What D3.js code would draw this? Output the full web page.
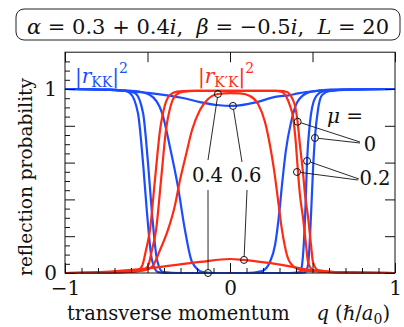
<!DOCTYPE html>
<html>
<head>
<meta charset="utf-8">
<script src="https://cdn.jsdelivr.net/npm/d3@7"></script>
<style>
body { margin: 0; background: #fff; }
svg text { font-family: "DejaVu Serif", serif; fill: #111; white-space: pre; }
</style>
</head>
<body>
<div id="vis"></div>
<script>
// declare constants
const FRAME_WIDTH = 404;
const FRAME_HEIGHT = 327;
const BLUE = "#1c4cff";
const RED = "#ff2a14";
const FONT = 20;
const SUB = 14;

// |r_KK|^2 curves, [q, probability], one per mu
const KK_MU0 = [[-1,1],[-0.727,0.997],[-0.636,0.989],[-0.606,0.978],[-0.558,0.87],[-0.527,0.598],[-0.503,0.326],[-0.473,0.071],[-0.436,0.005],[-0.35,0],[0,0],[0.38,0],[0.455,0.003],[0.473,0.043],[0.491,0.315],[0.503,0.56],[0.515,0.739],[0.533,0.886],[0.558,0.967],[0.606,0.989],[0.727,0.997],[1,1]];
const KK_MU2 = [[-1,1],[-0.727,0.997],[-0.63,0.99],[-0.576,0.978],[-0.527,0.87],[-0.497,0.598],[-0.473,0.326],[-0.442,0.071],[-0.406,0.005],[-0.3,0],[0,0],[0.36,0],[0.424,0.003],[0.436,0.04],[0.455,0.3],[0.467,0.609],[0.485,0.82],[0.515,0.95],[0.558,0.985],[0.667,0.996],[1,1]];
const KK_MU4 = [[-1,1],[-0.727,0.995],[-0.576,0.989],[-0.485,0.967],[-0.412,0.87],[-0.364,0.685],[-0.315,0.467],[-0.273,0.234],[-0.23,0.06],[-0.164,0.005],[-0.09,0],[0.1,0],[0.194,0.011],[0.242,0.06],[0.273,0.152],[0.297,0.315],[0.315,0.478],[0.339,0.668],[0.37,0.82],[0.412,0.935],[0.485,0.984],[0.606,0.997],[1,1]];
const KK_MU6 = [[-1,1],[-0.727,0.995],[-0.485,0.978],[-0.285,0.951],[-0.182,0.929],[-0.079,0.913],[0.018,0.908],[0.164,0.929],[0.273,0.957],[0.364,0.967],[0.412,0.976],[0.527,0.989],[0.727,0.997],[1,1]];

// |r_K'K|^2 curves
const KPK_MU0 = [[-1,0],[-0.667,0.005],[-0.558,0.016],[-0.533,0.038],[-0.509,0.125],[-0.485,0.234],[-0.455,0.505],[-0.424,0.777],[-0.394,0.913],[-0.364,0.967],[-0.321,0.986],[-0.242,0.99],[0.303,0.99],[0.345,0.984],[0.376,0.951],[0.394,0.908],[0.406,0.848],[0.424,0.696],[0.442,0.549],[0.455,0.424],[0.473,0.304],[0.491,0.152],[0.503,0.06],[0.533,0.016],[0.636,0.005],[1,0]];
const KPK_MU2 = [[-1,0],[-0.636,0.005],[-0.527,0.016],[-0.497,0.038],[-0.473,0.125],[-0.448,0.234],[-0.418,0.505],[-0.388,0.777],[-0.358,0.913],[-0.327,0.967],[-0.285,0.986],[-0.212,0.99],[0.273,0.99],[0.315,0.984],[0.345,0.951],[0.364,0.908],[0.382,0.848],[0.4,0.696],[0.412,0.549],[0.424,0.424],[0.442,0.304],[0.461,0.152],[0.473,0.06],[0.503,0.016],[0.606,0.005],[1,0]];
const KPK_MU4 = [[-1,0],[-0.667,0.005],[-0.515,0.016],[-0.473,0.033],[-0.424,0.125],[-0.376,0.234],[-0.333,0.37],[-0.303,0.505],[-0.267,0.641],[-0.23,0.777],[-0.182,0.886],[-0.139,0.94],[-0.073,0.973],[0,0.978],[0.061,0.976],[0.121,0.962],[0.17,0.918],[0.212,0.821],[0.242,0.696],[0.267,0.56],[0.291,0.397],[0.315,0.234],[0.345,0.098],[0.382,0.038],[0.455,0.011],[1,0]];
const KPK_MU6 = [[-1,0],[-0.788,0.005],[-0.485,0.027],[-0.182,0.06],[0,0.076],[0.079,0.071],[0.321,0.043],[0.527,0.011],[0.727,0.003],[1,0]];

const KK_CURVES = [KK_MU0, KK_MU2, KK_MU4, KK_MU6];
const KPK_CURVES = [KPK_MU0, KPK_MU2, KPK_MU4, KPK_MU6];

// axis ticks and labels
const X_MAJOR = [-1, -0.5, 0, 0.5, 1];
const X_MINOR = [-0.9,-0.8,-0.7,-0.6,-0.4,-0.3,-0.2,-0.1,0.1,0.2,0.3,0.4,0.6,0.7,0.8,0.9];
const X_LABELED = [-1, 0, 1];
const Y_MAJOR = [0, 0.2, 0.4, 0.6, 0.8, 1];
const Y_MINOR = [0.05,0.1,0.15,0.25,0.3,0.35,0.45,0.5,0.55,0.65,0.7,0.75,0.85,0.9,0.95,1.05,1.1,1.15];
const Y_LABELED = [0, 1];
const Y_TOP = 1.2;

// mu annotations: labels and marked points [q,p]
const MU_LABELS = ["0", "0.2", "0.4", "0.6"];
const MARK_MU0 = [[0.41, 0.822], [0.515, 0.734]];
const MARK_MU2 = [[0.467, 0.609], [0.406, 0.549]];
const MARK_MU4 = [[-0.073, 0.973], [-0.133, 0]];
const MARK_MU6 = [[0.018, 0.908], [0.085, 0.071]];

const X_SCALE = d3.scaleLinear().domain([-1, 1]).range([65, 395]);
const Y_SCALE = d3.scaleLinear().domain([0, 1]).range([273, 89]);

const SVG = d3.select("#vis")
  .append("svg")
    .attr("width", FRAME_WIDTH)
    .attr("height", FRAME_HEIGHT);

// title box
SVG.append("rect")
  .attr("x", 16).attr("y", 9)
  .attr("width", 384).attr("height", 31)
  .attr("rx", 8)
  .attr("fill", "none")
  .attr("stroke", "#222")
  .attr("stroke-width", 1);

const TITLE = SVG.append("text")
  .attr("x", 208).attr("y", 34)
  .attr("text-anchor", "middle")
  .attr("font-size", 21);
[["α", true], [" = 0.3 + 0.4", false], ["i", true], [",  ", false], ["β", true],
 [" = −0.5", false], ["i", true], [",  ", false], ["L", true], [" = 20", false]]
  .forEach(([s, it]) => {
    TITLE.append("tspan").text(s).attr("font-style", it ? "italic" : "normal");
  });

// curves
const LINE = d3.line()
  .x((d) => X_SCALE(d[0]))
  .y((d) => Y_SCALE(d[1]))
  .curve(d3.curveMonotoneX);

const PLOT = SVG.append("g");
PLOT.selectAll(".kk")
  .data(KK_CURVES)
  .enter()
  .append("path")
    .attr("class", "kk")
    .attr("d", LINE)
    .attr("fill", "none")
    .attr("stroke", BLUE)
    .attr("stroke-width", 2.2);

PLOT.selectAll(".kpk")
  .data(KPK_CURVES)
  .enter()
  .append("path")
    .attr("class", "kpk")
    .attr("d", LINE)
    .attr("fill", "none")
    .attr("stroke", RED)
    .attr("stroke-width", 2.2);

// frame
const TOP_Y = Y_SCALE(Y_TOP);
SVG.append("rect")
  .attr("x", X_SCALE(-1)).attr("y", TOP_Y)
  .attr("width", X_SCALE(1) - X_SCALE(-1))
  .attr("height", Y_SCALE(0) - TOP_Y)
  .attr("fill", "none")
  .attr("stroke", "#111")
  .attr("stroke-width", 1);

function styleAxis(g) {
  g.attr("font-family", null);
  g.select(".domain").remove();
  g.selectAll("line").attr("stroke", "#111");
  g.selectAll("text").attr("font-size", FONT).attr("fill", "#111");
}

// bottom axis
SVG.append("g")
  .attr("transform", "translate(0," + Y_SCALE(0) + ")")
  .call(d3.axisBottom(X_SCALE).tickValues(X_MAJOR).tickSizeInner(-10).tickSizeOuter(0).tickPadding(8)
    .tickFormat((d) => X_LABELED.includes(d) ? d3.format("d")(d) : ""))
  .call(styleAxis);
SVG.append("g")
  .attr("transform", "translate(0," + Y_SCALE(0) + ")")
  .call(d3.axisBottom(X_SCALE).tickValues(X_MINOR).tickSizeInner(-5).tickSizeOuter(0).tickFormat(""))
  .call(styleAxis);

// top axis
SVG.append("g")
  .attr("transform", "translate(0," + TOP_Y + ")")
  .call(d3.axisTop(X_SCALE).tickValues(X_MAJOR).tickSizeInner(-10).tickSizeOuter(0).tickFormat(""))
  .call(styleAxis);

// left axis
SVG.append("g")
  .attr("transform", "translate(" + X_SCALE(-1) + ",0)")
  .call(d3.axisLeft(Y_SCALE).tickValues(Y_MAJOR).tickSizeInner(-10).tickSizeOuter(0).tickPadding(8)
    .tickFormat((d) => Y_LABELED.includes(d) ? d3.format("d")(d) : ""))
  .call(styleAxis);
SVG.append("g")
  .attr("transform", "translate(" + X_SCALE(-1) + ",0)")
  .call(d3.axisLeft(Y_SCALE).tickValues(Y_MINOR).tickSizeInner(-5).tickSizeOuter(0).tickFormat(""))
  .call(styleAxis);

// right axis
SVG.append("g")
  .attr("transform", "translate(" + X_SCALE(1) + ",0)")
  .call(d3.axisRight(Y_SCALE).tickValues(Y_MAJOR).tickSizeInner(-10).tickSizeOuter(0).tickFormat(""))
  .call(styleAxis);

// axis titles
SVG.append("text")
  .attr("transform", "translate(32," + 177 + ") rotate(-90)")
  .attr("text-anchor", "middle")
  .attr("font-size", 18.5)
  .text("reflection probability");

SVG.append("text")
  .attr("x", 67).attr("y", 320)
  .attr("font-size", 19.5)
  .text("transverse momentum");

const XLAB = SVG.append("text")
  .attr("x", 390).attr("y", 320)
  .attr("text-anchor", "end")
  .attr("font-size", 19.5);
XLAB.append("tspan").attr("font-style", "italic").text("q");
XLAB.append("tspan").text(" (ℏ/");
XLAB.append("tspan").attr("font-style", "italic").text("a");
XLAB.append("tspan").attr("font-size", SUB).attr("dy", 4).text("0");
XLAB.append("tspan").attr("dy", -4).text(")");

// legend labels
function legend(x, sub, color) {
  const t = SVG.append("text")
    .attr("x", x).attr("y", 83)
    .attr("font-size", FONT)
    .style("fill", color);
  t.append("tspan").text("|");
  t.append("tspan").attr("font-style", "italic").text("r");
  t.append("tspan").attr("font-size", SUB).attr("dy", 4).text(sub);
  t.append("tspan").attr("dy", -4).text("|");
  t.append("tspan").attr("font-size", SUB).attr("dy", -10).text("2");
}
legend(75, "KK", BLUE);
legend(198, "K′K", RED);

// annotations
const ANN = SVG.append("g");
function leader(fromPx, mark) {
  const cx = X_SCALE(mark[0]), cy = Y_SCALE(mark[1]);
  const dx = fromPx[0] - cx, dy = fromPx[1] - cy;
  const len = Math.sqrt(dx * dx + dy * dy);
  const r = 3.5;
  ANN.append("line")
    .attr("x1", fromPx[0]).attr("y1", fromPx[1])
    .attr("x2", cx + dx / len * r).attr("y2", cy + dy / len * r)
    .attr("stroke", "#111").attr("stroke-width", 0.9);
  ANN.append("circle")
    .attr("cx", cx).attr("cy", cy).attr("r", r)
    .attr("fill", "none").attr("stroke", "#111").attr("stroke-width", 1);
}

function label(x, y, s) {
  ANN.append("text")
    .attr("x", x).attr("y", y)
    .attr("text-anchor", "middle")
    .attr("font-size", 19.5)
    .text(s);
}

label(207.5, 182, MU_LABELS[2]);
leader([208, 160], MARK_MU4[0]);
leader([208, 190], MARK_MU4[1]);

label(246, 182, MU_LABELS[3]);
leader([242, 162], MARK_MU6[0]);
leader([247, 190], MARK_MU6[1]);

const MU_T = SVG.append("text")
  .attr("x", 327).attr("y", 123)
  .attr("font-size", FONT);
MU_T.append("tspan").attr("font-style", "italic").text("μ");
MU_T.append("tspan").text(" =");

label(370, 151, MU_LABELS[0]);
leader([360, 142], MARK_MU0[0]);
leader([360, 143], MARK_MU0[1]);

label(375, 185, MU_LABELS[1]);
leader([359, 179], MARK_MU2[0]);
leader([358, 180], MARK_MU2[1]);
</script>
</body>
</html>
